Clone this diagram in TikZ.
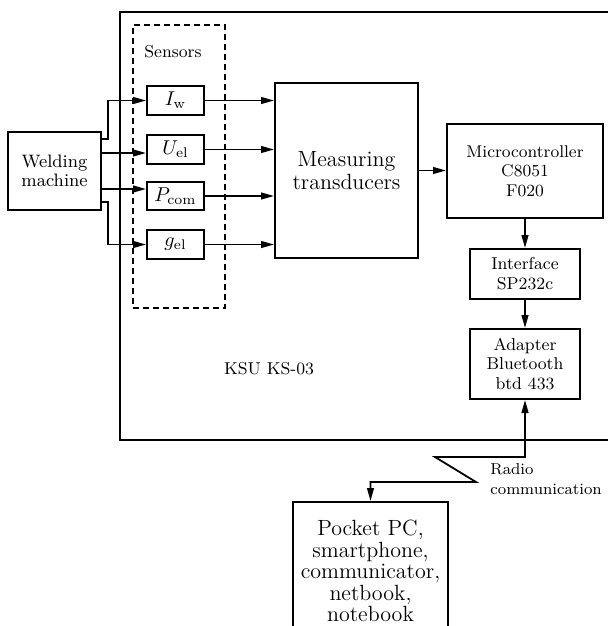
\documentclass[tikz,border=0pt]{standalone}
\usetikzlibrary{arrows.meta}
\begin{document}
\begin{tikzpicture}[x=0.5pt,y=-0.5pt,
  box/.style={draw, line width=1pt, align=center, inner sep=0pt},
  small/.style={font=\fontsize{8.6}{9.8}\selectfont},
  arr/.style={line width=0.9pt, -{Triangle[length=6.5pt,width=3.4pt]}},
  biarr/.style={line width=0.9pt, {Triangle[length=6.5pt,width=3.4pt]}-{Triangle[length=6.5pt,width=3.4pt]}},
  sensbox/.style={box, minimum width=28.5pt, minimum height=14.5pt, font=\fontsize{10}{12}\selectfont}]
\useasboundingbox (0,0) rectangle (608,626);
\clip (0,0) rectangle (608,626);
% outer KSU box
\node[box, minimum width=260pt, minimum height=214pt] (ksu) at (380,226) {};
\node[small, anchor=center] (ksulab) at (269,369) {KSU KS-03};
% sensors dashed group
\node[draw, dashed, dash pattern=on 3pt off 2pt, line width=0.9pt, minimum width=46pt, minimum height=141.5pt, inner sep=0pt] (sens) at (179,166.5) {};
\node[small] (senslab) at (173,52) {Sensors};
% welding machine
\node[box, font=\fontsize{9}{9.5}\selectfont, minimum width=46.5pt, minimum height=39pt] (weld) at (54.5,171) {Welding\\machine};
% sensor boxes
\node[sensbox] (Iw) at (175.5,100.5) {$I_{\mathrm{w}}$};
\node[sensbox] (Uel) at (175.5,149.5) {$U_{\mathrm{el}}$};
\node[sensbox, minimum height=14pt] (Pcom) at (175.5,196) {$P_{\mathrm{com}}$};
\node[sensbox] (gel) at (175.5,244.5) {$g_{\mathrm{el}}$};
% measuring transducers
\node[box, font=\fontsize{11}{11.5}\selectfont, minimum width=71.5pt, minimum height=87.5pt] (meas) at (346.5,170.5) {Measuring\\transducers};
% microcontroller
\node[box, font=\fontsize{8.5}{9.8}\selectfont, minimum width=78pt, minimum height=47pt] (micro) at (525,171) {Microcontroller\\C8051\\F020};
% interface
\node[box, font=\fontsize{8.6}{10}\selectfont, minimum width=55pt, minimum height=25pt] (iface) at (525,274) {Interface\\SP232c};
% adapter
\node[box, font=\fontsize{8.6}{9.6}\selectfont, minimum width=55pt, minimum height=35pt] (adapt) at (525,364) {Adapter\\Bluetooth\\btd 433};
% pocket pc
\node[box, font=\fontsize{11}{10.8}\selectfont, minimum width=77.5pt, minimum height=69pt] (pocket) at (370.5,571) {Pocket PC,\\smartphone,\\communicator,\\netbook,\\notebook};
% radio label
\node[font=\fontsize{7.9}{10}\selectfont, anchor=north west, align=left, inner sep=0pt] (radio) at (490,463) {Radio\\communication};
% welding machine to sensors
\draw[arr] ([yshift=16pt]weld.east) -- ++(3pt,0) |- (Iw.west);
\draw[arr] ([yshift=9pt]weld.east) -- ([yshift=9pt]weld.east -| Uel.west);
\draw[arr] ([yshift=-9pt]weld.east) -- ([yshift=-9pt]weld.east -| Pcom.west);
\draw[arr] ([yshift=-15.5pt]weld.east) -- ++(3pt,0) |- (gel.west);
% sensors to measuring transducers
\draw[arr] (Iw.east) -- (Iw.east -| meas.west);
\draw[arr] (Uel.east) -- (Uel.east -| meas.west);
\draw[arr] (Pcom.east) -- (Pcom.east -| meas.west);
\draw[arr] (gel.east) -- (gel.east -| meas.west);
% chain
\draw[arr] (meas.east) -- (meas.east -| micro.west);
\draw[arr] (micro.south) -- (iface.north);
\draw[arr] (iface.south) -- (adapt.north);
% radio link
\coordinate (r1) at (525,457);
\coordinate (r2) at (435,457);
\coordinate (r3) at (476,482);
\draw[biarr] (adapt.south) -- (r1) -- (r2) -- (r3) -| (pocket.north);
\end{tikzpicture}
\end{document}
